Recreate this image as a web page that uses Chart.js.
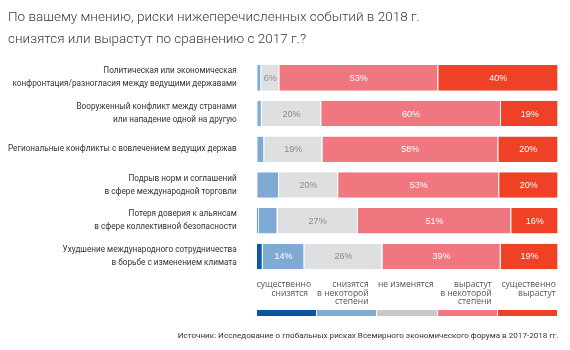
<!DOCTYPE html>
<html><head><meta charset="utf-8">
<script src="https://cdn.jsdelivr.net/npm/chart.js@4"></script>
<style>
html,body{margin:0;padding:0;background:#fff;}
#wrap{position:relative;width:570px;height:350px;overflow:hidden;}
#legend{position:absolute;left:256.7px;top:280px;width:302px;height:40px;font-family:"Open Sans",sans-serif;font-size:8.5px;line-height:8.6px;color:#555;}
.lg{position:absolute;top:0;height:36px;}
.lg .t{position:absolute;top:0;left:0;right:0;white-space:nowrap;}
.lg .b{position:absolute;left:0;right:0;top:29.5px;height:6px;}
</style>
</head><body><div id="wrap"><canvas id="c" width="570" height="350"></canvas><div id="legend"></div></div>
<script>
const titleLines = ["По вашему мнению, риски нижеперечисленных событий в 2018 г.", "снизятся или вырастут по сравнению с 2017 г.?"];
const sourceText = "Источник: Исследование о глобальных рисках Всемирного экономического форума в 2017-2018 гг.";
const categories = [
  ["Политическая или экономическая", "конфронтация/разногласия между ведущими державами"],
  ["Вооруженный конфликт между странами", "или нападение одной на другую"],
  ["Региональные конфликты с вовлечением ведущих держав"],
  ["Подрыв норм и соглашений", "в сфере международной торговли"],
  ["Потеря доверия к альянсам", "в сфере коллективной безопасности"],
  ["Ухудшение международного сотрудничества", "в борьбе с изменением климата"]
];
const seriesNames = [
  ["существенно", "снизятся"],
  ["снизятся", "в некоторой", "степени"],
  ["не изменятся"],
  ["вырастут", "в некоторой", "степени"],
  ["существенно", "вырастут"]
];
const decreaseStrongly = [0.4, 0.4, 0.4, 0.4, 0.6, 2.0];
const decreaseSomewhat = [1.1, 1.3, 2.1, 7.0, 6.3, 13.8];
const noChange        = [6.0, 19.7, 19.3, 19.6, 26.6, 25.9];
const increaseSomewhat = [52.7, 59.6, 58.3, 53.4, 50.9, 39.2];
const increaseStrongly = [39.8, 19.0, 19.9, 19.6, 15.6, 19.1];

const barColors = ["#0c58a5", "#7eaad3", "#dedfe0", "#f0777f", "#ee4125"];
const legendColors = ["#0a55a0", "#7eaad3", "#c8c9ca", "#f0777f", "#ee4125"];
const labelColors = ["#ffffff", "#ffffff", "#8a8a8a", "#ffffff", "#ffffff"];
const labelMin = [Infinity, 10, 0, 0, 0];

const seriesData = [decreaseStrongly, decreaseSomewhat, noChange, increaseSomewhat, increaseStrongly];

const valueLabels = {
  id: 'valueLabels',
  afterDatasetsDraw(chart) {
    const ctx = chart.ctx;
    ctx.save();
    ctx.font = '9px "Liberation Sans", Arial, sans-serif';
    ctx.textAlign = 'center';
    ctx.textBaseline = 'middle';
    chart.data.datasets.forEach((ds, i) => {
      const meta = chart.getDatasetMeta(i);
      meta.data.forEach((bar, j) => {
        const v = ds.data[j];
        if (v < labelMin[i]) return;
        const p = bar.getProps(['x', 'y', 'base'], true);
        ctx.fillStyle = labelColors[i];
        ctx.fillText(Math.round(v) + '%', (p.x + p.base) / 2, p.y + 0.5);
      });
    });
    ctx.restore();
  }
};

new Chart(document.getElementById('c'), {
  type: 'bar',
  data: {
    labels: categories,
    datasets: seriesData.map((d, i) => ({
      label: seriesNames[i].join(' '),
      data: d,
      backgroundColor: barColors[i],
      borderColor: 'rgba(255,255,255,0.45)',
      borderWidth: {right: 1},
      borderSkipped: 'start',
      barPercentage: 0.715,
      categoryPercentage: 1
    }))
  },
  options: {
    indexAxis: 'y',
    responsive: false,
    animation: false,
    devicePixelRatio: 1,
    layout: {padding: {left: 8, right: 11.7, top: 0, bottom: 0}},
    scales: {
      x: {stacked: true, display: false, min: 0, max: 100},
      y: {
        stacked: true,
        grid: {display: false, drawTicks: false},
        border: {display: false},
        ticks: {
          padding: 20, autoSkip: false, color: '#333',
          font: {family: 'Roboto, sans-serif', size: 8.2, lineHeight: 1.58}
        },
        afterFit(scale) { scale.width = 248.7; }
      }
    },
    plugins: {
      legend: {display: false},
      tooltip: {enabled: false},
      title: {
        display: true, text: titleLines, align: 'start', color: '#3a3a3a',
        font: {family: 'Roboto, sans-serif', size: 13.5, weight: 300, lineHeight: 1.63},
        padding: {top: 7, bottom: 9}
      },
      subtitle: {
        display: true, position: 'bottom', text: sourceText, align: 'end', color: '#333',
        font: {family: 'Roboto, sans-serif', size: 8.1, lineHeight: 1.2},
        padding: {top: 57, bottom: 9}
      }
    }
  },
  plugins: [valueLabels]
});

// HTML legend
const legendAlign = ['right', 'right', 'left', 'right', 'right'];
const legendInset = [8, 7.7, 0.5, 5.3, 1.6];
const lg = document.getElementById('legend');
seriesNames.forEach((name, i) => {
  const col = document.createElement('div');
  col.className = 'lg';
  col.style.left = (i * 60.35) + 'px';
  col.style.width = '59.3px';
  const t = document.createElement('div');
  t.className = 't';
  t.style.textAlign = legendAlign[i];
  if (legendAlign[i] === 'right') t.style.paddingRight = legendInset[i] + 'px';
  else t.style.paddingLeft = legendInset[i] + 'px';
  t.innerHTML = name.join('<br>');
  const b = document.createElement('div');
  b.className = 'b';
  b.style.background = legendColors[i];
  col.appendChild(t); col.appendChild(b);
  lg.appendChild(col);
});
</script>
</body></html>
